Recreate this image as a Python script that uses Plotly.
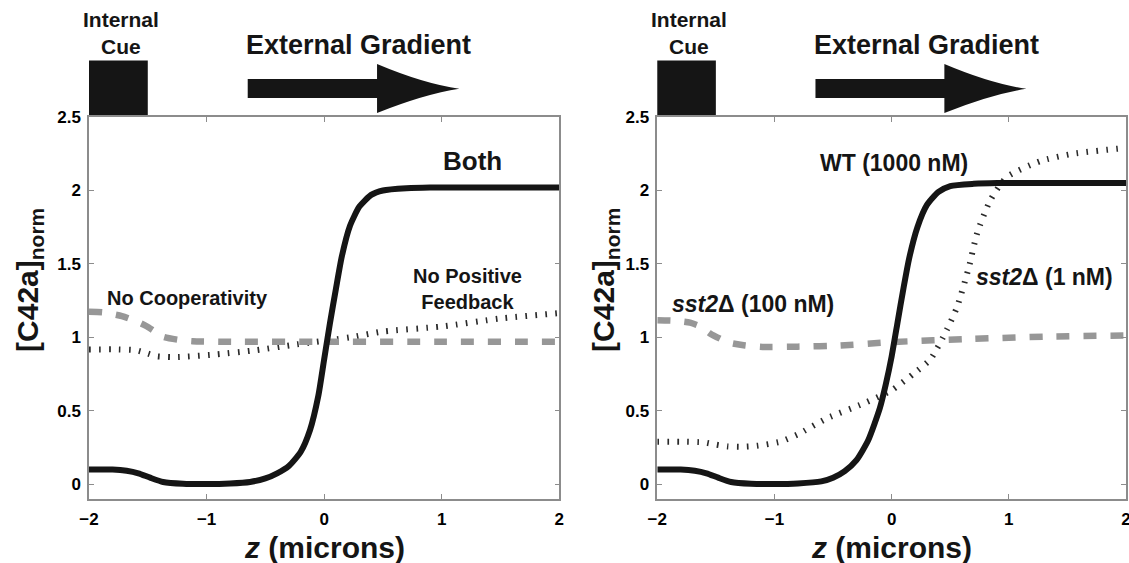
import plotly.graph_objects as go

# ---------------- data ----------------
# Left panel
x_both = [-2.0, -1.8, -1.68, -1.58, -1.48, -1.37, -1.2, -1.0, -0.8, -0.63, -0.5, -0.4, -0.3, -0.2,
          -0.12, -0.05, 0.0, 0.05, 0.1, 0.15, 0.22, 0.3, 0.4, 0.5, 0.7, 0.9, 1.2, 1.6, 2.0]
y_both = [0.10, 0.10, 0.092, 0.075, 0.045, 0.016, 0.004, 0.002, 0.006, 0.016, 0.04, 0.075, 0.125, 0.22,
          0.37, 0.6, 0.85, 1.1, 1.33, 1.55, 1.76, 1.89, 1.97, 2.0, 2.015, 2.02, 2.02, 2.02, 2.02]

x_nocoop = [-2.0, -1.88, -1.72, -1.6, -1.51, -1.44, -1.37, -1.25, -1.12, -0.75, 0.0, 1.0, 2.0]
y_nocoop = [1.174, 1.17, 1.145, 1.11, 1.076, 1.04, 1.004, 0.985, 0.974, 0.97, 0.97, 0.97, 0.97]

x_nopf = [-2.0, -1.75, -1.6, -1.5, -1.43, -1.3, -1.2, -0.92, -0.58, -0.235, 0.22, 0.5, 1.0, 1.49, 2.0]
y_nopf = [0.918, 0.918, 0.912, 0.89, 0.872, 0.866, 0.868, 0.884, 0.913, 0.952, 1.0, 1.04, 1.074, 1.128, 1.165]

# Right panel
x_wt = [-2.0, -1.8, -1.68, -1.58, -1.48, -1.37, -1.2, -1.0, -0.8, -0.6, -0.5, -0.4, -0.3, -0.2,
        -0.1, -0.05, 0.0, 0.05, 0.1, 0.15, 0.22, 0.3, 0.4, 0.5, 0.7, 0.9, 1.2, 1.6, 2.0]
y_wt = [0.10, 0.10, 0.092, 0.075, 0.045, 0.016, 0.004, 0.002, 0.006, 0.02, 0.045, 0.09, 0.165, 0.3,
        0.52, 0.68, 0.87, 1.1, 1.33, 1.54, 1.75, 1.9, 1.99, 2.03, 2.045, 2.05, 2.05, 2.05, 2.05]

x_sst100 = [-2.0, -1.85, -1.72, -1.62, -1.55, -1.46, -1.38, -1.25, -1.1, -0.8, -0.44, 0.0, 0.7, 1.3, 2.0]
y_sst100 = [1.117, 1.113, 1.10, 1.07, 1.027, 0.99, 0.963, 0.945, 0.935, 0.937, 0.945, 0.968, 0.99, 1.005, 1.013]

x_sst1 = [-2.0, -1.8, -1.6, -1.5, -1.4, -1.3, -1.15, -0.95, -0.8, -0.55, -0.24, 0.0, 0.19, 0.33,
          0.47, 0.56, 0.66, 0.73, 0.84, 0.98, 1.27, 1.55, 2.0]
y_sst1 = [0.29, 0.29, 0.285, 0.27, 0.258, 0.255, 0.262, 0.29, 0.34, 0.45, 0.55, 0.64, 0.755, 0.85,
          1.05, 1.21, 1.48, 1.71, 1.93, 2.09, 2.2, 2.25, 2.29]

y_ticks = [0, 0.5, 1, 1.5, 2, 2.5]
y_ticklabels = ["0", "0.5", "1", "1.5", "2", "2.5"]
x_ticks = [-2, -1, 0, 1, 2]
x_ticklabels = ["\u22122", "\u22121", "0", "1", "2"]

X_RANGE = [-2, 2]
Y_RANGE = [-0.1, 2.5]

FONT = "Liberation Sans, Arial, sans-serif"
BLACK = "#151515"
GRAY_DASH = "#979797"
AXIS_GRAY = "#8c8c8c"

solid = dict(color=BLACK, width=6, shape="spline", smoothing=0.6)
dashed = dict(color=GRAY_DASH, width=6.5, dash="13px,14px", shape="spline", smoothing=0.6)
dotted = dict(color="#2a2a2a", width=6, dash="1.6px,8.4px", shape="spline", smoothing=0.6)

fig = go.Figure()

def add(x, y, line, xa, ya):
    fig.add_trace(go.Scatter(x=x, y=y, mode="lines", line=line, xaxis=xa, yaxis=ya,
                             showlegend=False, hoverinfo="skip"))

# left
add(x_nopf, y_nopf, dotted, "x", "y")
add(x_nocoop, y_nocoop, dashed, "x", "y")
add(x_both, y_both, solid, "x", "y")
# right
add(x_sst1, y_sst1, dotted, "x2", "y2")
add(x_sst100, y_sst100, dashed, "x2", "y2")
add(x_wt, y_wt, solid, "x2", "y2")

axis_common = dict(
    showline=True, linecolor=AXIS_GRAY, linewidth=1.5, mirror="ticks",
    ticks="inside", ticklen=5, tickwidth=1.2, tickcolor=AXIS_GRAY,
    showgrid=False, zeroline=False, automargin=False, ticklabeloverflow="allow",
    tickfont=dict(family=FONT, size=17, color="black", weight="bold"),
)

fig.update_layout(
    width=1129, height=563,
    margin=dict(l=89, r=3, t=117, b=64, autoexpand=False),
    paper_bgcolor="white", plot_bgcolor="white",
    xaxis=dict(domain=[0, 0.4535], range=X_RANGE, anchor="y", tickvals=x_ticks,
               ticktext=x_ticklabels, ticklabelstandoff=4, **axis_common),
    yaxis=dict(domain=[0, 1], range=Y_RANGE, anchor="x", tickvals=y_ticks,
               ticktext=y_ticklabels, ticklabelstandoff=3, **axis_common),
    xaxis2=dict(domain=[0.548, 1], range=X_RANGE, anchor="y2", tickvals=x_ticks,
                ticktext=x_ticklabels, ticklabelstandoff=4, **axis_common),
    yaxis2=dict(domain=[0, 1], range=Y_RANGE, anchor="x2", tickvals=y_ticks,
                ticktext=y_ticklabels, ticklabelstandoff=3, **axis_common),
)

# helpers: data units -> axis-domain fractions (for decorations outside the plot area)
def fx(x):
    return (x - X_RANGE[0]) / (X_RANGE[1] - X_RANGE[0])

def fy(y):
    return (y - Y_RANGE[0]) / (Y_RANGE[1] - Y_RANGE[0])

shapes = []
annotations = []
for xa, ya, title_dx in [("x", "y", -0.128), ("x2", "y2", -0.112)]:
    xr, yr = xa + " domain", ya + " domain"
    # internal cue box
    shapes.append(dict(type="rect", xref=xr, yref=yr, x0=fx(-2.0), x1=fx(-1.5),
                       y0=fy(2.5), y1=fy(2.884), fillcolor=BLACK, line=dict(width=0), layer="below"))
    # external gradient arrow
    path = (f"M {fx(-0.65)},{fy(2.629)} L {fx(0.45)},{fy(2.629)} L {fx(0.45)},{fy(2.527)} "
            f"Q {fx(0.85)},{fy(2.655)} {fx(1.15)},{fy(2.692)} "
            f"Q {fx(0.85)},{fy(2.725)} {fx(0.45)},{fy(2.86)} "
            f"L {fx(0.45)},{fy(2.758)} L {fx(-0.65)},{fy(2.758)} Z")
    shapes.append(dict(type="path", xref=xr, yref=yr, path=path, fillcolor=BLACK,
                       line=dict(width=0)))
    annotations.append(dict(xref=xr, yref=yr, x=fx(-1.73), y=fy(3.075), text="Internal<br>Cue",
                            showarrow=False, xanchor="center", yanchor="middle", borderpad=0,
                            font=dict(family=FONT, size=21, color=BLACK, weight="bold")))
    annotations.append(dict(xref=xr, yref=yr, x=fx(-0.68), y=fy(2.99), text="External Gradient",
                            showarrow=False, xanchor="left", yanchor="middle",
                            font=dict(family=FONT, size=27, color=BLACK, weight="bold")))
    # axis titles
    annotations.append(dict(xref=xr, yref=yr, x=title_dx, y=0.573, text="[C42a]<sub>norm</sub>",
                            textangle=-90, showarrow=False, xanchor="center", yanchor="middle",
                            font=dict(family=FONT, size=30, color=BLACK, weight="bold")))
    annotations.append(dict(xref=xr, yref=yr, x=0.5, y=-0.1275, text="<i>z</i> (microns)",
                            showarrow=False, xanchor="center", yanchor="middle",
                            font=dict(family=FONT, size=30, color=BLACK, weight="bold")))

label_font = dict(family=FONT, color=BLACK, weight="bold")
annotations += [
    dict(xref="x", yref="y", x=1.263, y=2.198, text="Both", showarrow=False,
         font=dict(size=26, **label_font)),
    dict(xref="x", yref="y", x=1.219, y=1.332, text="No Positive<br>Feedback", showarrow=False,
         font=dict(size=20, **label_font)),
    dict(xref="x", yref="y", x=-1.16, y=1.271, text="No Cooperativity", showarrow=False,
         font=dict(size=20, **label_font)),
    dict(xref="x2", yref="y2", x=0.021, y=2.184, text="WT (1000 nM)", showarrow=False,
         font=dict(size=23, **label_font)),
    dict(xref="x2", yref="y2", x=-1.183, y=1.226, text="<i>sst2</i>\u0394 (100 nM)", showarrow=False,
         font=dict(size=23, **label_font)),
    dict(xref="x2", yref="y2", x=1.302, y=1.41, text="<i>sst2</i>\u0394 (1 nM)", showarrow=False,
         font=dict(size=23, **label_font)),
]

fig.update_layout(shapes=shapes, annotations=annotations)
# remove the page's default body margin so the 1129x563 figure fills the window exactly
fig.write_html("out.html", config={"displayModeBar": False},
               post_script="document.body.style.margin='0';document.body.style.overflow='hidden';")
